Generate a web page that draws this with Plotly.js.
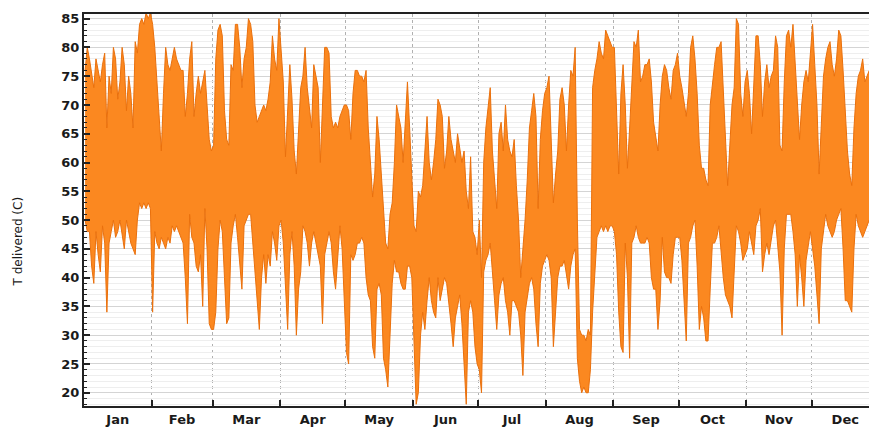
<!DOCTYPE html>
<html><head><meta charset="utf-8">
<script src="https://cdn.plot.ly/plotly-3.0.1.min.js"></script>
<style>html,body{margin:0;padding:0;background:#fff}#chart{width:869px;height:432px}</style>
</head><body><div id="chart"></div>
<script>
// Month labels and boundaries (day of year)
const monthNames = ['Jan','Feb','Mar','Apr','May','Jun','Jul','Aug','Sep','Oct','Nov','Dec'];
const monthStartDays = [31,59,90,120,151,181,212,243,273,304,334];
const monthMidDays = [15.5,45,74.5,105,135.5,166,196.5,227.5,258,288.5,319,349.5];
const yTicks = [20,25,30,35,40,45,50,55,60,65,70,75,80,85];

// Daily maximum of delivered temperature (°C), days 0..360
const dailyHigh = [
 76,80,78,75,73,78,76,74,77,79,66,75,72,80,78,71,74,80,77,69,75,72,66,81,79,84,85,84,86,85,
 86,84,80,74,66,62,72,80,77,76,78,80,78,77,76,76,68,72,78,81,68,72,75,72,74,76,70,64,62,63,
 78,83,84,82,69,64,63,77,76,84,84,80,73,78,80,85,84,81,70,67,68,69,70,69,71,74,82,78,76,85,
 80,74,61,70,77,71,62,58,66,73,75,80,73,70,66,77,75,73,60,70,80,80,79,68,66,67,66,68,69,70,
 70,69,64,72,76,76,75,75,74,76,66,60,54,58,68,64,58,51,46,45,51,53,60,70,68,66,60,68,74,66,
 56,49,48,55,54,56,62,68,60,57,60,64,71,70,68,59,62,68,64,62,60,65,62,60,62,55,52,61,48,47,
 44,50,40,60,66,70,73,62,56,52,65,67,62,70,64,62,61,64,56,50,40,45,50,57,66,69,72,68,52,64,
 69,72,73,75,63,53,58,62,71,73,70,62,70,76,75,80,50,31,30,30,29,31,30,73,76,78,81,79,78,83,
 82,81,80,80,68,58,72,77,70,59,66,73,81,80,83,74,75,77,77,78,74,67,64,62,70,75,77,76,73,71,
 76,77,79,75,73,70,68,72,80,82,78,72,63,59,59,57,56,70,74,77,80,80,81,73,66,56,63,70,73,85,
 84,72,68,74,76,72,65,74,82,82,77,68,74,77,73,75,76,82,80,63,62,74,82,83,80,84,78,70,64,70,
 74,76,74,79,84,77,70,58,66,75,78,80,81,77,75,78,83,82,76,68,62,58,56,66,72,75,76,78,74,75,
 76
];

// Daily minimum of delivered temperature (°C), days 0..360
const dailyLow = [
 50,48,48,42,39,48,44,41,49,46,34,46,48,50,47,48,50,47,45,50,48,46,45,44,50,53,52,53,52,53,
 52,34,48,46,45,47,46,45,47,46,49,48,49,48,47,46,40,32,51,47,46,42,41,44,35,52,45,32,31,31,
 34,45,50,48,40,32,33,46,49,51,47,43,38,49,50,51,51,46,40,35,31,40,44,39,44,42,48,46,43,49,
 50,46,38,31,44,48,42,30,38,41,49,48,46,42,46,48,46,44,42,32,44,46,48,46,41,38,44,49,45,37,
 27,25,44,43,44,46,46,47,46,40,37,36,28,26,38,39,37,26,24,21,30,39,43,41,41,39,38,38,42,42,
 40,28,18,20,30,34,31,36,40,36,34,33,40,36,38,40,39,36,32,28,33,35,37,32,26,18,34,36,34,28,
 25,24,20,41,43,44,46,40,36,31,37,39,40,36,34,30,36,36,35,34,30,23,34,37,39,40,38,32,28,39,
 42,43,44,43,40,28,35,40,42,42,43,40,38,42,44,45,26,22,20,21,20,20,24,34,40,47,48,49,48,49,
 48,49,49,48,44,34,28,27,46,40,26,46,47,49,47,46,46,46,47,46,40,38,38,31,36,47,41,40,40,39,
 44,47,47,47,43,36,29,46,47,49,50,42,31,35,33,29,29,38,46,46,47,49,44,40,37,36,35,33,42,49,
 48,46,43,44,45,48,46,44,49,50,52,41,44,46,44,47,49,50,46,41,30,45,51,51,51,48,44,35,44,40,
 35,43,46,48,45,42,37,32,45,48,51,49,48,47,48,50,51,52,45,36,36,35,34,45,51,49,48,47,48,49,
 50
];

const days = dailyHigh.map((_, i) => i + 0.5);

const lowTrace = {
  type: 'scatter', mode: 'lines', x: days, y: dailyLow,
  line: {color: '#ea700c', width: 1},
  hoverinfo: 'skip', showlegend: false
};
const highTrace = {
  type: 'scatter', mode: 'lines', x: days, y: dailyHigh,
  fill: 'tonexty', fillcolor: '#fb8820',
  line: {color: '#ea700c', width: 1},
  hoverinfo: 'skip', showlegend: false
};

const axisFont = {family: 'DejaVu Sans, Verdana, sans-serif', size: 13, color: '#1a1a1a', weight: 'bold'};

const layout = {
  width: 869, height: 432,
  margin: {l: 84, r: 0, t: 14, b: 26, pad: 0},
  paper_bgcolor: '#ffffff', plot_bgcolor: '#ffffff',
  showlegend: false,
  xaxis: {
    range: [0, 360.4], fixedrange: true, zeroline: false,
    tickmode: 'array', tickvals: monthMidDays, ticktext: monthNames,
    ticks: '', showgrid: false,
    tickfont: axisFont,
    showline: true, linecolor: '#222', linewidth: 2, mirror: true,
    minor: {tickmode: 'array', tickvals: monthStartDays, ticks: 'inside', ticklen: 6,
            tickwidth: 2, tickcolor: '#222', showgrid: true, gridcolor: '#b0b0b0',
            griddash: 'dot', gridwidth: 1}
  },
  yaxis: {
    range: [17.7, 85.8], fixedrange: true, zeroline: false,
    tickmode: 'array', tickvals: yTicks,
    ticks: 'inside', ticklen: 6, tickwidth: 2, tickcolor: '#222',
    tickfont: axisFont,
    showgrid: true, gridcolor: '#d4d4d4', gridwidth: 1,
    showline: true, linecolor: '#222', linewidth: 2,
    minor: {dtick: 1, tick0: 0, ticks: 'inside', ticklen: 3, tickwidth: 1, tickcolor: '#222',
            showgrid: true, gridcolor: '#eeeeee', gridwidth: 1}
  },
  annotations: [{
    text: 'T delivered (C)', textangle: -90, showarrow: false,
    xref: 'paper', yref: 'paper', x: -0.084, y: 0.42, xanchor: 'center', yanchor: 'middle',
    font: {family: 'DejaVu Sans, Verdana, sans-serif', size: 12, color: '#1a1a1a'}
  }]
};

Plotly.newPlot('chart', [lowTrace, highTrace], layout, {displayModeBar: false, staticPlot: true});
</script>
</body></html>
